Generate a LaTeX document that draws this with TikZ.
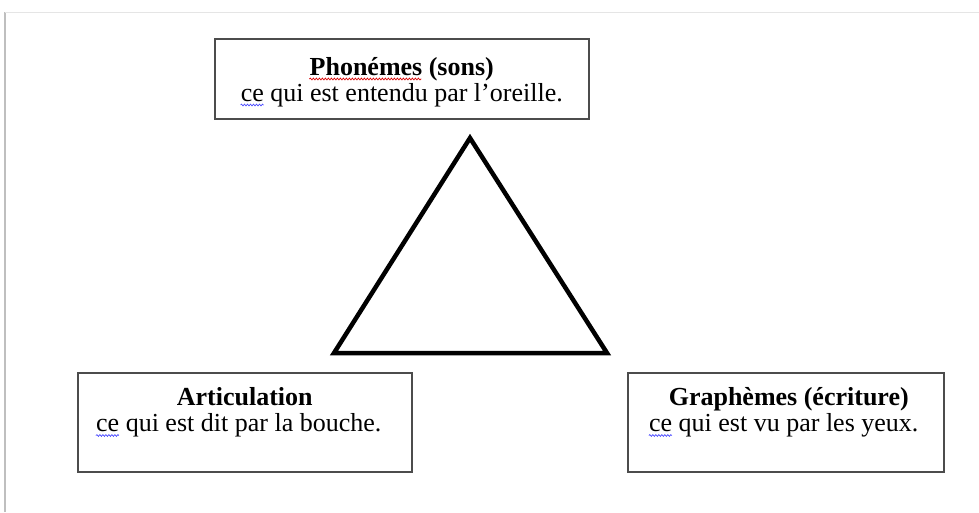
\documentclass[tikz,border=0pt]{standalone}
\usepackage{fontspec}
\setmainfont{Liberation Serif}
\usepackage{tikz}
\usetikzlibrary{positioning,decorations.pathmorphing}

\begin{document}
\begin{tikzpicture}[x=1pt,y=-1pt,
    box/.style={draw=black!70,line width=1.5pt,anchor=north west,inner sep=0pt},
    title/.style={anchor=base,inner sep=0pt,font=\fontsize{26}{26.5}\selectfont\bfseries},
    sub/.style={anchor=base,inner sep=0pt,font=\fontsize{26}{26.5}\selectfont},
    wave/.style={line width=0.7pt,decorate,decoration={snake,segment length=3pt,amplitude=0.9pt}}]
    \useasboundingbox (0,0) rectangle (979,512);
    % page edge
    \draw[black!25,line width=1.2pt] (5,512) -- (5,12);
    \draw[black!10,line width=1pt] (5,12) -- (979,12);

    \node[box,minimum width=374pt,minimum height=80pt] (phon) at (214,38) {};
    \node[box,minimum width=334pt,minimum height=99pt] (artic) at (77,372) {};
    \node[box,minimum width=316pt,minimum height=99pt] (graph) at (627,372) {};

    \node[title] (phontitle) at ([yshift=-37pt]phon.north) {Phonémes (sons)};
    \node[sub] (phonsub) at ([yshift=-26pt]phontitle.base) {ce qui est entendu par l’oreille.};
    \node[title] (artictitle) at ([yshift=-33pt]artic.north) {Articulation};
    \node[sub] (articsub) at ([xshift=-6pt,yshift=-26.5pt]artictitle.base) {ce qui est dit par la bouche.};
    \node[title] (graphtitle) at ([xshift=3pt,yshift=-33pt]graph.north) {Graphèmes (écriture)};
    \node[sub] (graphsub) at ([xshift=-5pt,yshift=-26.5pt]graphtitle.base) {ce qui est vu par les yeux.};

    % spell-check underlines
    \draw[wave,red!85!black] ([yshift=-4pt]phontitle.base west) -- ++(112,0);
    \draw[wave,blue!70] ([yshift=-4pt]phonsub.base west) -- ++(23,0);
    \draw[wave,blue!70] ([yshift=-4pt]articsub.base west) -- ++(23,0);
    \draw[wave,blue!70] ([yshift=-4pt]graphsub.base west) -- ++(23,0);

    % triangle
    \coordinate (apex) at (470,138);
    \coordinate (baseL) at (334,353);
    \coordinate (baseR) at (607,353);
    \draw[line width=4.5pt,line join=miter] (apex) -- (baseL) -- (baseR) -- cycle;
\end{tikzpicture}
\end{document}
